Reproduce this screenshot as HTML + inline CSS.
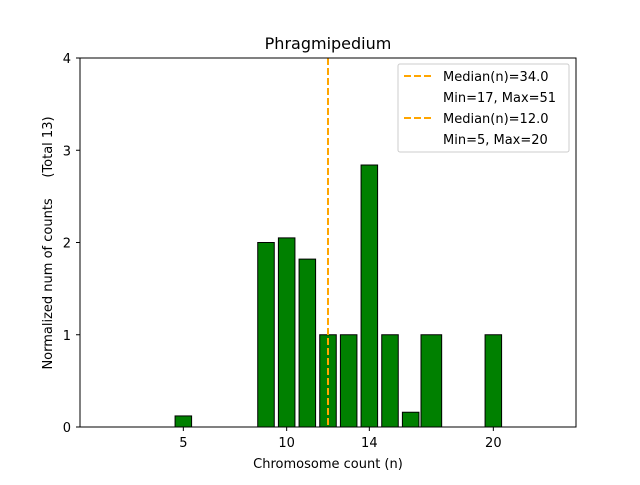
<!DOCTYPE html>
<html><head><meta charset="utf-8"><style>
body{margin:0;background:#fff;font-family:"Liberation Sans","DejaVu Sans",sans-serif;}
svg text{font-family:"DejaVu Sans","Liberation Sans",sans-serif;}
</style></head><body>
<svg id="chart" width="640" height="480" viewBox="0 0 640 480">
<rect width="640" height="480" fill="#fff"/>
<text x="328" y="49" font-size="16" text-anchor="middle">Phragmipedium</text>
<g id="bars"></g>
<g id="axes"></g>
<line x1="328" y1="58" x2="328" y2="427" stroke="#ffa500" stroke-width="2" stroke-dasharray="7,3"/>
<rect x="80" y="58" width="496" height="369" fill="none" stroke="#000" stroke-width="1"/>
<g>
<rect x="398" y="64" width="171" height="88" fill="#fff" stroke="#ccc" rx="2"/>
<line x1="404" y1="76" x2="432" y2="76" stroke="#ffa500" stroke-width="2" stroke-dasharray="7,3"/>
<text x="443" y="81" font-size="13">Median(n)=34.0</text>
<text x="443" y="102" font-size="13">Min=17, Max=51</text>
<line x1="404" y1="118" x2="432" y2="118" stroke="#ffa500" stroke-width="2" stroke-dasharray="7,3"/>
<text x="443" y="123" font-size="13">Median(n)=12.0</text>
<text x="443" y="144" font-size="13">Min=5, Max=20</text>
</g>
<text x="328" y="468" font-size="13" text-anchor="middle">Chromosome count (n)</text>
<text transform="translate(52,243) rotate(-90)" font-size="13" text-anchor="middle">Normalized num of counts&#160;&#160;&#160;&#160;&#160;(Total 13)</text>
</svg>
<script>
const categories=[5,9,10,11,12,13,14,15,16,17,20];
const values=[0.12,2.0,2.05,1.82,1.0,1.0,2.84,1.0,0.16,1.0,1.0];
const barWidths=[0.8,0.8,0.8,0.8,0.8,0.8,0.8,0.8,0.8,1.0,0.8];
const xTicks=[5,10,14,20];
const yTicks=[0,1,2,3,4];
const ns="http://www.w3.org/2000/svg";
const X=v=>80+(v-0)*(496/24);
const Y=v=>427-v*(369/4);
const bars=document.getElementById('bars'),axes=document.getElementById('axes');
categories.forEach((c,i)=>{
 const r=document.createElementNS(ns,'rect');
 const w=barWidths[i];
 r.setAttribute('x',X(c-w/2));r.setAttribute('width',X(w)-X(0));
 r.setAttribute('y',Y(values[i]));r.setAttribute('height',Y(0)-Y(values[i]));
 r.setAttribute('fill','#008000');r.setAttribute('stroke','#000');r.setAttribute('stroke-width','1');
 
 
 bars.appendChild(r);
});
xTicks.forEach(t=>{
 const l=document.createElementNS(ns,'line');
 l.setAttribute('x1',X(t));l.setAttribute('x2',X(t));l.setAttribute('y1',427);l.setAttribute('y2',431);l.setAttribute('stroke','#000');
 
 
 axes.appendChild(l);
 const tx=document.createElementNS(ns,'text');
 tx.setAttribute('x',X(t));tx.setAttribute('y',447);tx.setAttribute('font-size','13');tx.setAttribute('text-anchor','middle');
 tx.textContent=t;
 
 
 axes.appendChild(tx);
});
yTicks.forEach(t=>{
 const l=document.createElementNS(ns,'line');
 l.setAttribute('x1',76);l.setAttribute('x2',80);l.setAttribute('y1',Y(t));l.setAttribute('y2',Y(t));l.setAttribute('stroke','#000');
 
 
 axes.appendChild(l);
 const tx=document.createElementNS(ns,'text');
 tx.setAttribute('x',71);tx.setAttribute('y',Y(t)+5);tx.setAttribute('font-size','13');tx.setAttribute('text-anchor','end');
 tx.textContent=t;
 
 
 axes.appendChild(tx);
});
</script>
</body></html>
